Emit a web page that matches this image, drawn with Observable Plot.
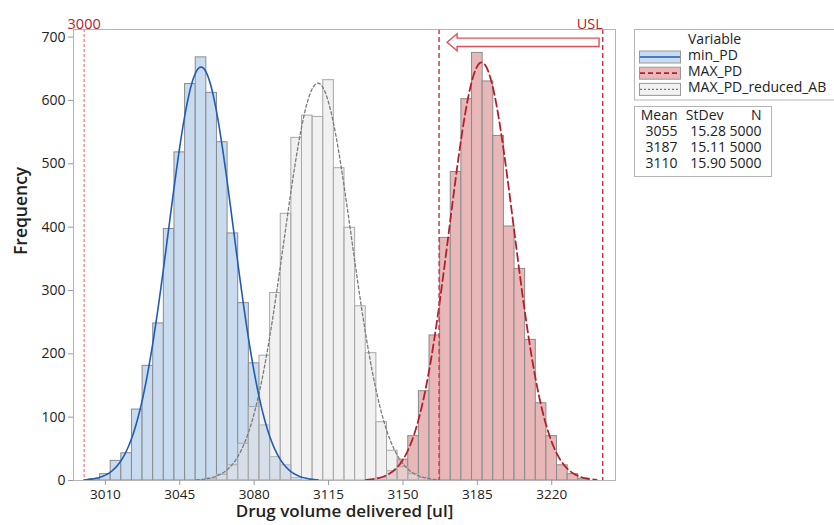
<!DOCTYPE html>
<html><head><meta charset="utf-8">
<script src="https://cdn.jsdelivr.net/npm/d3@7"></script>
<script src="https://cdn.jsdelivr.net/npm/@observablehq/plot@0.6"></script>
<style>
html,body{margin:0;padding:0;background:#fff;overflow:hidden}
#wrap{position:relative;width:834px;height:525px;overflow:hidden;font-family:"Segoe UI","Open Sans","Noto Sans",sans-serif}
#legend{position:absolute;left:0;top:0;pointer-events:none}
</style></head><body><div id="wrap"></div>
<script>
// ---- data ----
const binWidth = 5;
const minPD_bins   = [3005,3010,3015,3020,3025,3030,3035,3040,3045,3050,3055,3060,3065,3070,3075,3080,3085,3090,3095,3100];
const minPD_counts = [2,10,31,43,112,181,248,397,518,626,668,612,534,390,280,185,87,37,24,4];
const reduced_bins   = [3060,3065,3070,3075,3080,3085,3090,3095,3100,3105,3110,3115,3120,3125,3130,3135,3140,3145,3150,3155,3160];
const reduced_counts = [3,9,24,58,116,197,296,421,541,576,574,632,493,399,275,201,92,47,21,10,4];
const maxPD_bins   = [3140,3145,3150,3155,3160,3165,3170,3175,3180,3185,3190,3195,3200,3205,3210,3215,3220,3225,3230,3235];
const maxPD_counts = [4,15,33,70,141,229,383,487,602,675,630,544,401,334,222,122,70,24,10,3];

const seriesNames = ["min_PD","MAX_PD","MAX_PD_reduced_AB"];
const means = [3055,3187,3110];
const stdevs = [15.28,15.11,15.90];
const counts = [5000,5000,5000];

const xTicks = [3010,3045,3080,3115,3150,3185,3220];
const yTicks = [0,100,200,300,400,500,600,700];
const lowerRef = [3000];
const limitRefs = [3167,3244];
const refLabelX = [3000,3244];
const refLabelText = ["3000","USL"];
const arrowFrom = 3242.5, arrowTo = 3171, arrowLevel = 691;

// ---- helpers ----
const toRows = (bins, cnts) => bins.map((b,i)=>({bin:b, count:cnts[i]}));
function fit(i){
  const m=means[i], s=stdevs[i], n=counts[i], pts=[];
  for(let v=m-3.6*s; v<=m+3.6*s+1e-9; v+=0.5)
    pts.push({x:v, y:n*binWidth*Math.exp(-0.5*((v-m)/s)**2)/(s*Math.sqrt(2*Math.PI))});
  return pts;
}
const blueFill="#c9dbee", redFill="#e8b8b9", greyFill="#e4e4e4";
const blueLine="#1f5cb6", redLine="#b3202c", greyLine="#7a7a7a";
const font = '"Segoe UI","Open Sans","Noto Sans",sans-serif';

const rectOpts = (fill, stroke, op) => ({x1:d=>d.bin-binWidth/2, x2:d=>d.bin+binWidth/2, y:"count", fill, fillOpacity:op, stroke, strokeWidth:1});

const arrowMark = (index, scales) => {
  const xt = scales.x(arrowTo), xe = scales.x(arrowFrom), y = scales.y(arrowLevel);
  const xh = xt + 10, hh = 8.5, bh = 4.2;
  const p = document.createElementNS("http://www.w3.org/2000/svg","path");
  p.setAttribute("d", `M${xt},${y}L${xh},${y-hh}L${xh},${y-bh}L${xe},${y-bh}L${xe},${y+bh}L${xh},${y+bh}L${xh},${y+hh}Z`);
  p.setAttribute("fill","#fff"); p.setAttribute("stroke","#e0505a"); p.setAttribute("stroke-width","1.4");
  return p;
};

const chart = Plot.plot({
  width: 834, height: 525,
  marginLeft: 73, marginRight: 219, marginTop: 29, marginBottom: 45,
  style: {fontFamily: font, fontSize: "14px", color: "#222", background: "#fff"},
  x: {domain:[2995,3250]},
  y: {domain:[0,712]},
  marks: [
    Plot.rectY(toRows(minPD_bins,minPD_counts), rectOpts(blueFill,"#8a8a8a",1)),
    Plot.rectY(toRows(maxPD_bins,maxPD_counts), rectOpts(redFill,"#8a8a8a",1)),
    Plot.rectY(toRows(reduced_bins,reduced_counts), rectOpts(greyFill,"#a8a8a8",0.5)),
    Plot.line(fit(2), {x:"x", y:"y", stroke:greyLine, strokeWidth:1.3, strokeDasharray:"3,2.5"}),
    Plot.line(fit(0), {x:"x", y:"y", stroke:blueLine, strokeWidth:1.6}),
    Plot.line(fit(1), {x:"x", y:"y", stroke:redLine, strokeWidth:1.8, strokeDasharray:"8,4"}),
    Plot.ruleX(lowerRef, {stroke:"#ee5a5a", strokeWidth:1, strokeDasharray:"3,2"}),
    Plot.ruleX(limitRefs, {stroke:"#d23a48", strokeWidth:1.5, strokeDasharray:"5,3"}),
    arrowMark,
    Plot.text(refLabelX.map((x,i)=>({x, t:refLabelText[i]})), {x:"x", text:"t", frameAnchor:"top", dy:-11,
      fill:"#b31d2c", fontSize:14.5}),
    Plot.frame({stroke:"#b5b5b5"}),
    Plot.axisX(xTicks, {tickSize:5, tickPadding:4, stroke:"#999", fill:"#222", fontSize:13.5, label:null, tickFormat:d=>String(d)}),
    Plot.axisY(yTicks, {tickSize:5, tickPadding:3, stroke:"#999", fill:"#222", fontSize:14, label:null, tickFormat:d=>String(d)}),
    Plot.text(["Drug volume delivered [ul]"], {frameAnchor:"bottom", dy:36.5, fontSize:17, fontWeight:600, fill:"#222"}),
    Plot.text(["Frequency"], {frameAnchor:"left", dx:-52, rotate:-90, fontSize:17.5, fontWeight:600, fill:"#222"})
  ]
});
document.getElementById("wrap").appendChild(chart);

// USL label right-aligned to its line
d3.select(chart).selectAll("text").filter(function(){return this.textContent==="USL";}).attr("text-anchor","end");

// ---- legend overlay ----
const lg = d3.select("#wrap").append("svg").attr("id","legend").attr("width",834).attr("height",525)
  .style("font-family",font).style("font-size","14px").attr("fill","#222");
lg.append("rect").attr("x",634.5).attr("y",29.5).attr("width",212).attr("height",70.5).attr("fill","#fff").attr("stroke","#b5b5b5");
lg.append("text").attr("x",688).attr("y",43.5).text("Variable");
const sw = [
  {fill:blueFill, stroke:blueLine, dash:null, w:1.6},
  {fill:redFill, stroke:redLine, dash:"5,3", w:1.8},
  {fill:"#f2f2f2", stroke:greyLine, dash:"2,2", w:1.2}
];
seriesNames.forEach((name,i)=>{
  const y0 = 51 + i*16.2;
  lg.append("rect").attr("x",639.5).attr("y",y0).attr("width",41).attr("height",12)
    .attr("fill",sw[i].fill).attr("stroke","#9a9a9a");
  lg.append("line").attr("x1",640).attr("x2",680).attr("y1",y0+6).attr("y2",y0+6)
    .attr("stroke",sw[i].stroke).attr("stroke-width",sw[i].w).attr("stroke-dasharray",sw[i].dash);
  lg.append("text").attr("x",688).attr("y",y0+8.7).text(name);
});
lg.append("rect").attr("x",634.5).attr("y",106.5).attr("width",137).attr("height",70).attr("fill","#fff").attr("stroke","#b5b5b5");
const hdr = [["Mean",677.5],["StDev",723.5],["N",761.5]];
hdr.forEach(([t,x])=>lg.append("text").attr("x",x).attr("y",120).attr("text-anchor","end").text(t));
means.forEach((m,i)=>{
  const y = 136 + i*16;
  lg.append("text").attr("x",677.5).attr("y",y).attr("text-anchor","end").text(String(m));
  lg.append("text").attr("x",726).attr("y",y).attr("text-anchor","end").text(stdevs[i].toFixed(2));
  lg.append("text").attr("x",761.5).attr("y",y).attr("text-anchor","end").text(String(counts[i]));
});
</script></body></html>
